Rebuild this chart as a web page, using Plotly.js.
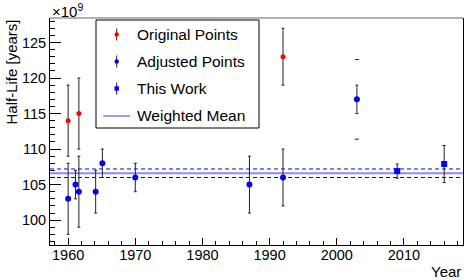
<!DOCTYPE html>
<html><head><meta charset="utf-8">
<script src="https://cdn.plot.ly/plotly-3.0.1.min.js"></script>
<style>html,body{margin:0;padding:0;background:#fff}#chart{width:469px;height:280px}</style>
</head><body><div id="chart"></div>
<script>
// ---- data ----
const originalYears = [1960, 1961.6, 1992];
const originalHalfLife = [114, 115, 123];
const originalErr = [5, 5, 4];

const adjustedYears = [1960, 1961.1, 1961.6, 1964.1, 1965.1, 1970, 1987, 1992, 2003];
const adjustedHalfLife = [103, 105, 104, 104, 108, 106, 105, 106, 117];
const adjustedErr = [5, 2, 5, 3, 2, 2, 4, 4, 2];

const outerCapYears = [2003, 2003];
const outerCapValues = [122.6, 111.4];

const thisWorkYears = [2009, 2016];
const thisWorkHalfLife = [106.9, 107.9];
const thisWorkErr = [1.0, 2.6];

const weightedMean = 106.6;
const weightedMeanErr = 0.6;

const legendLabels = ["Original Points", "Adjusted Points", "This Work", "Weighted Mean"];
const yTitle = "Half-Life [years]";
const xTitle = "Year";
const yExponent = "×10<sup>9</sup>";

// ---- layout helpers ----
const W = 469, H = 280, ML = 50, MR = 6, MT = 18, MB = 35;
const PW = W - ML - MR, PH = H - MT - MB;
const px = x => (x - ML) / PW;
const py = y => (H - MB - y) / PH;
const FONT = "Liberation Sans, Arial, Helvetica, sans-serif";

const errStyle = (arr) => ({type: 'data', array: arr, visible: true, color: '#222', thickness: 1, width: 1.5});

const traces = [
  {x: originalYears, y: originalHalfLife, type: 'scatter', mode: 'markers', name: legendLabels[0],
   marker: {color: '#ff0000', size: 5, symbol: 'circle'}, error_y: errStyle(originalErr), showlegend: false},
  {x: adjustedYears, y: adjustedHalfLife, type: 'scatter', mode: 'markers', name: legendLabels[1],
   marker: {color: '#0000ff', size: 6, symbol: 'circle'}, error_y: errStyle(adjustedErr), showlegend: false},
  {x: outerCapYears, y: outerCapValues, type: 'scatter', mode: 'markers', name: 'caps',
   marker: {symbol: 'line-ew', size: 3, color: '#222', line: {width: 1, color: '#222'}}, showlegend: false, hoverinfo: 'skip'},
  {x: thisWorkYears, y: thisWorkHalfLife, type: 'scatter', mode: 'markers', name: legendLabels[2],
   marker: {color: '#0000ff', size: 6, symbol: 'square'}, error_y: errStyle(thisWorkErr), showlegend: false}
];

// manual legend (ROOT-style)
const legX0 = 96, legX1 = 259, legY0 = 20, legY1 = 128;
const rows = [34.5, 61.5, 88.5, 115.5];
const symX = 116.7;
const shapes = [
  {type: 'line', xref: 'paper', yref: 'y', x0: 0, x1: 1, y0: weightedMean, y1: weightedMean, layer: 'below',
   line: {color: '#8a8aff', width: 2}},
  {type: 'line', xref: 'paper', yref: 'y', x0: 0, x1: 1, y0: weightedMean + weightedMeanErr, y1: weightedMean + weightedMeanErr, layer: 'below',
   line: {color: '#0000ff', width: 1, dash: '4px,3px'}},
  {type: 'line', xref: 'paper', yref: 'y', x0: 0, x1: 1, y0: weightedMean - weightedMeanErr, y1: weightedMean - weightedMeanErr, layer: 'below',
   line: {color: '#0000ff', width: 1, dash: '4px,3px'}},
  {type: 'line', xref: 'paper', yref: 'paper', x0: 0, x1: 1, y0: 1, y1: 1, line: {color: '#999999', width: 1.5}},
  {type: 'rect', xref: 'paper', yref: 'paper', x0: px(legX0), x1: px(legX1), y0: py(legY1), y1: py(legY0),
   line: {color: '#000', width: 1}, fillcolor: '#fff'}
];
const legColors = ['#ff0000', '#0000ff', '#0000ff'];
for (let i = 0; i < 3; i++) {
  shapes.push({type: 'line', xref: 'paper', yref: 'paper', x0: px(symX), x1: px(symX), y0: py(rows[i] - 6), y1: py(rows[i] + 6),
    line: {color: '#222', width: 1}});
  shapes.push({type: i === 2 ? 'rect' : 'circle', xref: 'paper', yref: 'paper', xsizemode: 'pixel', ysizemode: 'pixel',
    xanchor: px(symX), yanchor: py(rows[i]), x0: -2.2, x1: 2.2, y0: -2.2, y1: 2.2,
    fillcolor: legColors[i], line: {width: 0}});
}
shapes.push({type: 'line', xref: 'paper', yref: 'paper', x0: px(103.3), x1: px(130), y0: py(rows[3] + 0.5), y1: py(rows[3] + 0.5),
  line: {color: '#3a3aff', width: 1}});

const annotations = legendLabels.map((t, i) => ({
  text: t, xref: 'paper', yref: 'paper', x: px(135), y: py(rows[i]), xanchor: 'left', yanchor: 'middle',
  showarrow: false, font: {family: FONT, size: 15.5, color: '#000'}
}));
annotations.push({text: yTitle, textangle: -90, xref: 'paper', yref: 'paper', x: 0, xshift: -39, y: 1,
  xanchor: 'center', yanchor: 'top', showarrow: false, font: {family: FONT, size: 15, color: '#000'}});
annotations.push({text: yExponent, xref: 'paper', yref: 'paper', x: 0, y: 1, yshift: -4, xanchor: 'left', yanchor: 'bottom',
  showarrow: false, font: {family: FONT, size: 15, color: '#000'}});
annotations.push({text: xTitle, xref: 'paper', yref: 'paper', x: 1, y: 0, yshift: -16, xanchor: 'right', yanchor: 'top',
  showarrow: false, font: {family: FONT, size: 15, color: '#000'}});

const layout = {
  width: W, height: H,
  margin: {l: ML, r: MR, t: MT, b: MB, pad: 0},
  paper_bgcolor: '#fff', plot_bgcolor: '#fff',
  showlegend: false,
  font: {family: FONT, size: 14, color: '#000'},
  xaxis: {range: [1957.3, 2018.8], tickmode: 'linear', tick0: 1960, dtick: 10,
    ticks: 'inside', ticklen: 7, tickwidth: 1, tickcolor: '#000', ticklabelstandoff: -3,
    minor: {dtick: 2, ticks: 'inside', ticklen: 4, tickwidth: 1, tickcolor: '#000', showgrid: false},
    showline: true, linecolor: '#000', linewidth: 1, mirror: false,
    showgrid: false, zeroline: false, tickfont: {family: FONT, size: 14.5, color: '#000'}},
  yaxis: {range: [96.5, 128.45], tickmode: 'linear', tick0: 100, dtick: 5,
    ticks: 'inside', ticklen: 11, tickwidth: 1, tickcolor: '#000',
    minor: {dtick: 1, ticks: 'inside', ticklen: 5, tickwidth: 1, tickcolor: '#000', showgrid: false},
    showline: true, linecolor: '#000', linewidth: 1, mirror: true,
    showgrid: false, zeroline: false, tickfont: {family: FONT, size: 14.5, color: '#000'}},
  shapes: shapes,
  annotations: annotations
};

Plotly.newPlot('chart', traces, layout, {displayModeBar: false, staticPlot: true});
</script>
</body></html>
